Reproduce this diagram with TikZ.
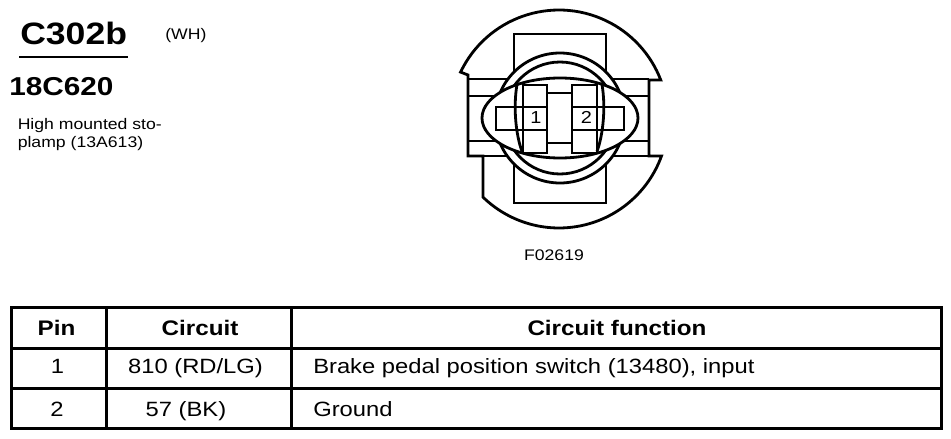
\documentclass[tikz,border=0pt]{standalone}
\usepackage{fontspec}
\setmainfont{Liberation Sans}[FakeStretch=1.15]

\begin{document}
\begin{tikzpicture}[x=0.75pt,y=-0.75pt,
    part/.style={line width=2.1pt},
    grid/.style={line width=2.25pt},
    small/.style={inner sep=0pt,font=\fontsize{11.5}{14}\selectfont},
    pinlbl/.style={inner sep=0pt,font=\fontsize{13}{15}\selectfont},
    cell/.style={inner sep=0pt,font=\fontsize{15.5}{18}\selectfont},
    head/.style={inner sep=0pt,font=\fontsize{15.8}{18}\selectfont\bfseries},
    big/.style={inner sep=0pt,font=\fontsize{23.2}{26}\selectfont\bfseries},
    mid/.style={inner sep=0pt,font=\fontsize{19.4}{22}\selectfont\bfseries}]
    \useasboundingbox (0,0) rectangle (951,439);

    \node[big,anchor=base west] (title) at (20,45) {C302b};
    \draw[line width=1.5pt] (19,57) -- (128,57);
    \node[small,anchor=base west] (wh) at (165,40) {(WH)};
    \node[mid,anchor=base west] (part) at (9,95) {18C620};
    \node[small,anchor=base west] (descA) at (17.5,129) {High mounted sto-};
    \node[small,anchor=base west] (descB) at (17.5,147) {plamp (13A613)};

    \draw[part] (460.6,72.1) arc[start angle=-154.5,end angle=-20.96,radius=109]
        -- (649,80) -- (649,156) -- (661.5,156)
        arc[start angle=19.85,end angle=134.2,radius=109]
        -- (483,156) -- (468,156) -- (468,75) -- cycle;
    \draw[part] (468,79) -- (649,79) (468,156) -- (649,156)
        (468,96) -- (649,96) (468,141) -- (649,141);
    \draw[part] (514,34) rectangle (606,203);
    \draw[part,fill=white] (560,118) circle[radius=65];
    \draw[part] (560,118) circle[radius=56];
    \draw[part,fill=white] (560,118) ellipse[x radius=78,y radius=40];
    \draw[part] (517,84.5) .. controls (513,108) and (516,135) .. (522,151.5);
    \draw[part] (602,84.5) .. controls (606,108) and (603,135) .. (597,151.5);
    \draw[part] (496,107) rectangle (547,130) (523,85) rectangle (547,153);
    \draw[part] (572,107) rectangle (624,130) (572,85) rectangle (597,153);
    \draw[part] (547,93) -- (572,93) (547,143) -- (572,143);
    \node[pinlbl] (pinA) at (536,117.5) {1};
    \node[pinlbl] (pinB) at (586.5,117.5) {2};
    \node[small,anchor=base] (fig) at (554,260) {F02619};

    \draw[grid] (11,307) rectangle (941,428);
    \draw[grid] (11,348) -- (941,348) (11,388) -- (941,388)
        (106,307) -- (106,428) (291,307) -- (291,428);
    \node[head,anchor=base] (hpin) at (56.5,335) {Pin};
    \node[head,anchor=base] (hcirc) at (200,335) {Circuit};
    \node[head,anchor=base] (hfunc) at (617,335) {Circuit function};
    \node[cell,anchor=base] (pinone) at (57.5,373) {1};
    \node[cell,anchor=base] (circone) at (195.5,373) {810 (RD/LG)};
    \node[cell,anchor=base west] (funcone) at (313,373) {Brake pedal position switch (13480), input};
    \node[cell,anchor=base] (pintwo) at (57,416) {2};
    \node[cell,anchor=base] (circtwo) at (186,416) {57 (BK)};
    \node[cell,anchor=base west] (functwo) at (313,416) {Ground};
\end{tikzpicture}
\end{document}
